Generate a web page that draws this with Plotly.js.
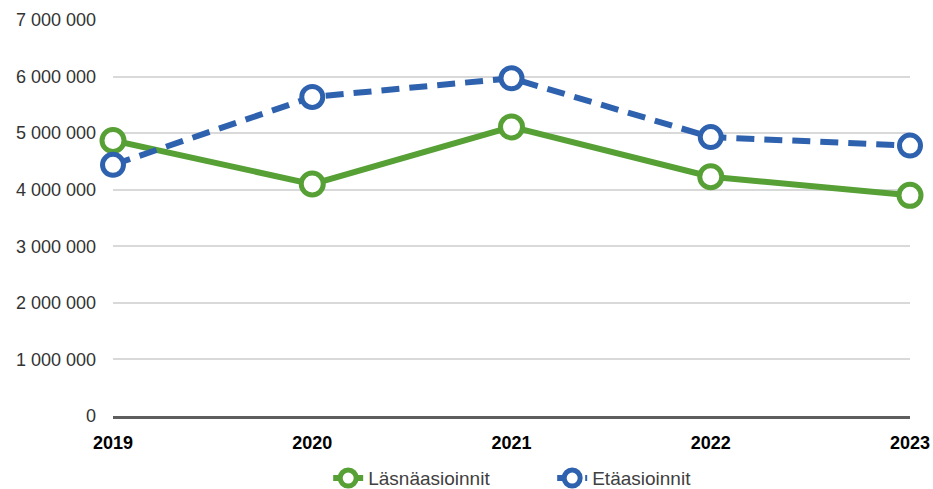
<!DOCTYPE html>
<html><head><meta charset="utf-8">
<script src="https://cdn.plot.ly/plotly-3.0.1.min.js"></script>
<style>body{margin:0;background:#fff}#c{width:933px;height:489px}</style>
</head><body><div id="c"></div>
<script>
const years = [2019, 2020, 2021, 2022, 2023];
const lasna = [4870000, 4100000, 5110000, 4230000, 3900000];
const eta = [4440000, 5640000, 5970000, 4930000, 4780000];
const yTickVals = [0,1000000,2000000,3000000,4000000,5000000,6000000,7000000];
const yTickText = ["0","1 000 000","2 000 000","3 000 000","4 000 000","5 000 000","6 000 000","7 000 000"];

const traces = [
 {x: years, y: lasna, name: "Läsnäasioinnit", type: "scatter", mode: "lines+markers", cliponaxis: false,
  line: {color: "#56A035", width: 6},
  marker: {symbol: "circle", size: 22, color: "#ffffff", line: {color: "#56A035", width: 5}}},
 {x: years, y: eta, name: "Etäasioinnit", type: "scatter", mode: "lines+markers", cliponaxis: false,
  line: {color: "#2E62AF", width: 6, dash: "18px,10px"},
  marker: {symbol: "circle", size: 21, color: "#ffffff", line: {color: "#2E62AF", width: 5}}}
];
const layout = {
 width: 933, height: 489,
 margin: {l: 113, r: 23, t: 20, b: 73, autoexpand: false},
 paper_bgcolor: "#fff", plot_bgcolor: "#fff",
 font: {family: "Liberation Sans, Arial, sans-serif", color: "#404040"},
 xaxis: {range: [2019, 2023], tickvals: years, ticktext: years.map(String), showgrid: false, zeroline: false,
  showline: true, linecolor: "#5E5E5E", linewidth: 3, ticks: "", tickfont: {size: 18, color: "#000", weight: "bold"}, ticklabelstandoff: 8},
 yaxis: {range: [0, 7000000], tickvals: yTickVals, ticktext: yTickText, showgrid: true, gridcolor: "#D9D9D9", gridwidth: 1.5,
  zeroline: false, showline: false, ticks: "", tickfont: {size: 18, color: "#333333"}, ticklabelstandoff: 16},
 showlegend: true,
 legend: {orientation: "h", x: 0.27, xanchor: "left", y: -0.157, yanchor: "middle", font: {size: 19, color: "#404040"},
  entrywidth: 179, traceorder: "normal"}
};
Plotly.newPlot("c", traces, layout, {displayModeBar: false});
</script></body></html>
